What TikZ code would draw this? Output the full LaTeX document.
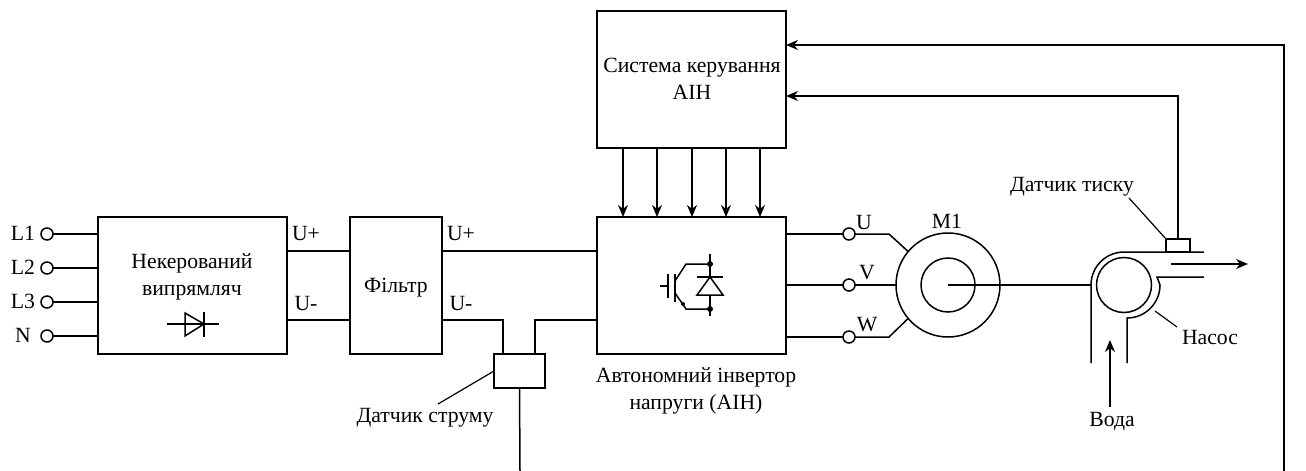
\documentclass[tikz,border=0pt]{standalone}
\usepackage{fontspec}
\setmainfont{Liberation Serif}
\usetikzlibrary{arrows.meta, calc}
\tikzset{
  wire/.style={line width=1.5pt},
  thin wire/.style={line width=1.2pt},
  feed/.style={wire, -{Stealth[length=12pt,width=10pt]}},
  blockbox/.style={draw, line width=1.6pt, inner sep=0pt, outer sep=0pt, align=center},
  terminal/.style={circle, draw, line width=1.5pt, fill=white, minimum size=12pt, inner sep=0pt, outer sep=0pt},
  round part/.style={circle, draw, line width=1.5pt, inner sep=0pt, outer sep=0pt},
  lbl/.style={inner sep=0pt, align=center, font=\fontsize{21.7}{27}\selectfont},
  solder/.style={circle, fill, minimum size=6pt, inner sep=0pt}
}
\begin{document}
\begin{tikzpicture}[x=1pt, y=-1pt]
  \useasboundingbox (0,0) rectangle (1306,471);

  % blocks
  \node[blockbox, minimum width=189pt, minimum height=137pt] (rectifier) at (192.5,285.5) {};
  \node[blockbox, minimum width=92pt, minimum height=137pt] (filter) at (396,285.5) {};
  \node[blockbox, minimum width=189pt, minimum height=137pt] (inverter) at (691.5,285.5) {};
  \node[blockbox, minimum width=189pt, minimum height=137pt] (control) at (691.5,79.5) {};
  \node[blockbox, minimum width=51pt, minimum height=34pt] (isensor) at (519.5,371) {};
  \node[blockbox, line width=1.3pt, minimum width=24pt, minimum height=13pt] (psensor) at (1178,245.5) {};

  % texts of the blocks
  \node[lbl] at (192,276.5) {Некерований\\випрямляч};
  \node[lbl] at (396,287.5) {Фільтр};
  \node[lbl] at (692,78.5) {Система керування\\АІН};
  \node[lbl] at (696,391) {Автономний інвертор\\напруги (АІН)};
  \node[lbl] (isensorlbl) at (425,418) {Датчик струму};
  \node[lbl] (psensorlbl) at (1072,187) {Датчик тиску};
  \node[lbl] (pumplbl) at (1210,337) {Насос};
  \node[lbl] (waterlbl) at (1112,421) {Вода};

  % input terminals
  \foreach \name/\txt/\ypos in {l1/L1/234, l2/L2/268, l3/L3/302, n/N/336} {
    \node[terminal] (\name) at (47,\ypos) {};
    \node[lbl] at (23,\ypos-1) {\txt};
    \draw[wire] (\name) -- (\name -| rectifier.west);
  }

  % dc links
  \coordinate (up) at (300,251);
  \coordinate (un) at (300,320);
  \draw[wire] (up -| rectifier.east) -- (up -| filter.west);
  \draw[wire] (un -| rectifier.east) -- (un -| filter.west);
  \draw[wire] (up -| filter.east) -- (up -| inverter.west);
  \coordinate (isa) at (503,354);
  \coordinate (isb) at (535,354);
  \draw[wire] (un -| filter.east) -| (isa);
  \draw[wire] (un -| inverter.west) -| (isb);
  \node[lbl] at (306,233) {U+};
  \node[lbl] at (306,303) {U-};
  \node[lbl] at (461,233) {U+};
  \node[lbl] at (461,303) {U-};

  % motor and phases
  \node[round part, minimum size=104pt] (motor) at (948,285) {};
  \node[round part, minimum size=54pt] (rotor) at (948,285) {};
  \node[lbl] at (947,221) {M1};
  \node[terminal] (pu) at (849,234) {};
  \node[terminal] (pv) at (849,285) {};
  \node[terminal] (pw) at (849,337) {};
  \node[lbl] at (864,222) {U};
  \node[lbl] at (867,273) {V};
  \node[lbl] at (867,325) {W};
  \draw[wire] (pu -| inverter.east) -- (pu);
  \draw[wire] (pv -| inverter.east) -- (pv);
  \draw[wire] (pw -| inverter.east) -- (pw);
  \draw[wire] (pu) -- (889,234) -- (motor.140);
  \draw[wire] (pv) -- (motor.west);
  \draw[wire] (pw) -- (889,337) -- (motor.220);

  % gate signals
  \foreach \xpos in {623,657,692,726,760}
    \draw[feed] (\xpos,148) -- (\xpos,217);

  % pump
  \node[round part, minimum size=55pt] (impeller) at (1124,285) {};
  \coordinate (shaftend) at (1091,285);
  \draw[wire] (motor.center) -- (shaftend);
  \draw[wire] (1091,363) -- (shaftend) arc[start angle=180, end angle=90, radius=33pt] -- (1204,252);
  \draw[wire] (1127,363) -- (1127,318) arc[start angle=-90, end angle=0, radius=33pt] -- (1157,277) -- (1204,277);
  \draw[feed] (1171,264) -- (1248,264);
  \coordinate (waterin) at (1110,407);
  \draw[feed] (waterin) -- (1110,340);
  \coordinate (pumpleader) at (1177,327);
  \draw[thin wire] (pumpleader) -- (1155,311);

  % sensor leaders and feedback
  \coordinate (isensorleader) at (438,404);
  \coordinate (psensorleader) at (1129,198);
  \draw[thin wire] (isensor.west) -- (isensorleader);
  \draw[thin wire] (psensor.north west) -- (psensorleader);
  \draw[wire] (isensor.south) -- (520,471);
  \draw[feed] (psensor.north) |- (control.east |- 0,96);
  \draw[feed] (1284,471) |- (control.east |- 0,45);

  % diode symbol
  \draw[wire] (167,324) -- (219,324);
  \draw[wire] (185,313) -- (185,336) -- (204,324) -- cycle;
  \draw[wire] (204,312) -- (204,337);

  % igbt symbol
  \draw[wire] (660,286) -- (668,286);
  \draw[wire] (668,274) -- (668,298);
  \draw[wire] (675,274) -- (675,302);
  \draw[wire] (675,281) -- (686,264) -- (710,264);
  \draw[wire] (675,293) -- (686,309) -- (710,309);
  \draw[wire] (710,254) -- (710,277);
  \draw[wire] (710,295) -- (710,316);
  \draw[wire] (697,277) -- (723,277);
  \draw[wire] (710,277) -- (723,295) -- (697,295) -- cycle;
  \node[solder] (cdot) at (710,264) {};
  \node[solder] (edot) at (710,309) {};
  \node[solder, minimum size=4pt] (adot) at (683,304) {};
\end{tikzpicture}
\end{document}
